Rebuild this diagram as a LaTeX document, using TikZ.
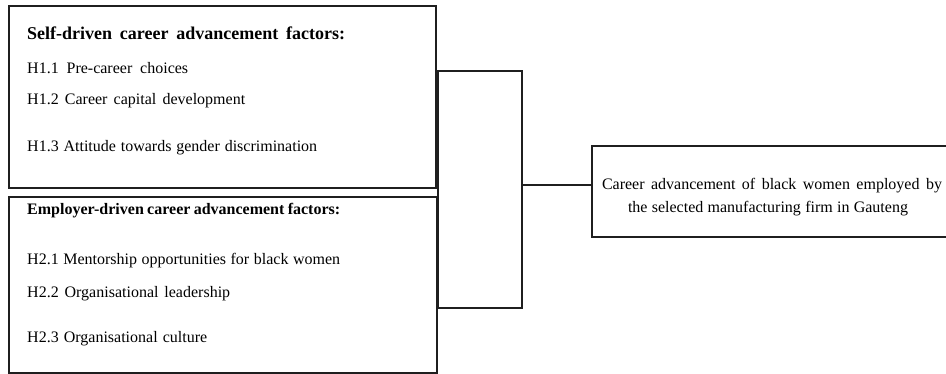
\documentclass[tikz,border=0pt]{standalone}
\usepackage{fontspec}
\setmainfont{Liberation Serif}
\newcommand{\fillto}[2]{\makebox[#1pt][s]{#2}}
\begin{document}
\begin{tikzpicture}[x=1pt,y=-1pt,
  box/.style={draw=black!88, line width=2.2pt, anchor=north west, inner sep=0pt, outer sep=0pt},
  lbl/.style={anchor=base west, inner sep=0pt, font=\fontsize{16}{19}\selectfont},
  ttl/.style={anchor=base west, inner sep=0pt, font=\fontsize{18}{21}\selectfont\bfseries},
  conn/.style={draw=black!88, line width=2.2pt}]
\useasboundingbox (0,0) rectangle (946,374);
\node[box, minimum width=427pt, minimum height=182pt] (self) at (9,6) {};
\node[box, minimum width=428pt, minimum height=176pt] (emp) at (9,197) {};
\node[box, minimum width=84pt, minimum height=237pt] (bracket) at (438,71) {};
\node[box, minimum width=362pt, minimum height=91pt] (outcome) at (592,146) {};
\node[ttl] (t1) at (27,40) {\fillto{318}{Self-driven career advancement factors:}};
\node[lbl] (h11) at (27,74) {\fillto{161}{H1.1 Pre-career choices}};
\node[lbl] (h12) at (27,105) {\fillto{218}{H1.2 Career capital development}};
\node[lbl] (h13) at (27,152) {\fillto{290}{H1.3 Attitude towards gender discrimination}};
\node[ttl, font=\fontsize{16}{19}\selectfont\bfseries] (t2) at (27,215) {\fillto{313}{Employer-driven career advancement factors:}};
\node[lbl] (h21) at (27,265) {\fillto{313}{H2.1 Mentorship opportunities for black women}};
\node[lbl] (h22) at (27,298) {\fillto{203}{H2.2 Organisational leadership}};
\node[lbl] (h23) at (27,343) {\fillto{180}{H2.3 Organisational culture}};
\node[lbl, anchor=base] (out1) at (772,190) {\fillto{340}{Career advancement of black women employed by}};
\node[lbl, anchor=base] (out2) at (768,213) {\fillto{280}{the selected manufacturing firm in Gauteng}};
\coordinate (j) at (522,185);
\draw[conn] (j) -- (j -| outcome.west);
\end{tikzpicture}
\end{document}
